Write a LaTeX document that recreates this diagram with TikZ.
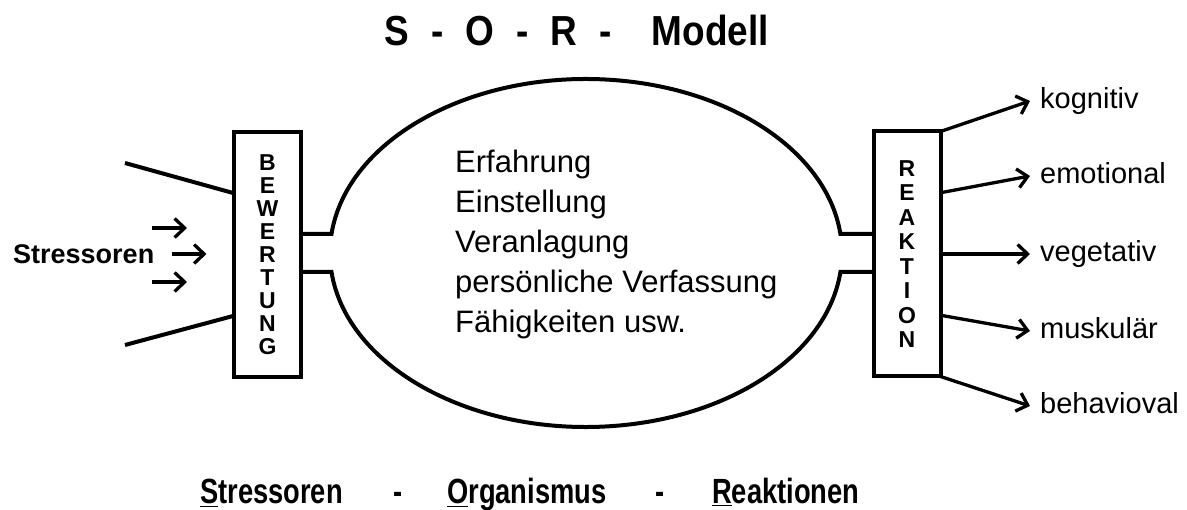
\documentclass[tikz,border=0pt]{standalone}
\usepackage{fontspec}
\setmainfont{Liberation Sans}
\newfontfamily\narrowfont[FakeStretch=0.78]{Liberation Sans}
\newfontfamily\titlefont[FakeStretch=0.88]{Liberation Sans}
\usetikzlibrary{arrows.meta,calc}

\tikzset{
    outline/.style={line width=4pt},
    stagebox/.style={draw, outline, minimum width=67pt, minimum height=245pt,
        inner sep=0pt, outer sep=0pt, align=center,
        font=\fontsize{23}{23}\selectfont\bfseries},
    arr/.style={line width=3.3pt, -{Straight Barb[length=10pt,width=19pt,line width=3.3pt]}},
    reaclabel/.style={anchor=west, inner sep=0pt, text height=21pt, text depth=6pt,
        font=\fontsize{29}{29}\selectfont},
    orgtext/.style={anchor=base west, inner sep=0pt, font=\fontsize{31}{31}\selectfont},
    bottomtext/.style={anchor=base west, inner sep=0pt,
        font=\narrowfont\fontsize{35}{35}\selectfont\bfseries}
}

\begin{document}
\begin{tikzpicture}[x=1pt, y=-1pt, line join=miter]
    \useasboundingbox (0,0) rectangle (1187,510);

    \node[anchor=base, inner sep=0pt, font=\titlefont\fontsize{42}{42}\selectfont\bfseries] (title) at (577,46)
        {S\hspace{22pt}-\hspace{22pt}O\hspace{22pt}-\hspace{22pt}R\hspace{22pt}-\hspace{40pt}Modell};

    % filter and reaction boxes
    \node[stagebox] (bew) at (267.5,254.5) {B\\E\\W\\E\\R\\T\\U\\N\\G};
    \node[stagebox, font=\fontsize{23}{24.5}\selectfont\bfseries] (reak) at (907,254) {R\\E\\A\\K\\T\\I\\O\\N};

    \coordinate (neckTop) at (0,234);
    \coordinate (neckBot) at (0,272);
    \coordinate (funnelTop) at (125,163);
    \coordinate (funnelBot) at (125,345);

    % organism
    \draw[outline] (bew.east |- neckTop) -- (331.5,234)
        arc[start angle=173.73, end angle=6.27, x radius=256pt, y radius=174pt] -- (reak.west |- neckTop);
    \draw[outline] (bew.east |- neckBot) -- (331.5,272)
        arc[start angle=186.27, end angle=353.73, x radius=256pt, y radius=174pt] -- (reak.west |- neckBot);

    \foreach \txt [count=\i] in {Erfahrung, Einstellung, Veranlagung, persönliche Verfassung, Fähigkeiten usw.}
        \node[orgtext] (org\i) at (455,133+40*\i) {\txt};

    % funnel
    \draw[outline] (funnelTop) -- ($(bew.north west)!0.25!(bew.south west)$);
    \draw[outline] (funnelBot) -- ($(bew.north west)!0.75!(bew.south west)$);

    \node[anchor=west, inner sep=0pt, font=\fontsize{27}{27}\selectfont\bfseries] (stress) at (13,254) {Stressoren};
    \draw[arr] ([xshift=18pt]stress.east) -- ++(34,0);
    \coordinate (inTop) at (152,228);
    \coordinate (inBot) at (152,282);
    \draw[arr] (inTop) -- ++(35,0);
    \draw[arr] (inBot) -- ++(35,0);

    % reactions
    \foreach \name/\txt/\y/\f in {kog/kognitiv/101/0, emo/emotional/176/0.25, veg/vegetativ/254/0.5,
                                  mus/muskulär/331/0.75, beh/behavioval/406/1}
    {
        \node[reaclabel] (\name) at (1040,\y) {\txt};
        \draw[arr] ($(reak.north east)!\f!(reak.south east)$) -- ([xshift=-10pt]\name.west);
    }

    \foreach \x/\txt [count=\i] in {200/\underline{S}tressoren, 393/-, 447/\underline{O}rganismus,
                                    655/-, 712/\underline{R}eaktionen}
        \node[bottomtext] (sor\i) at (\x,504) {\txt};
\end{tikzpicture}
\end{document}
